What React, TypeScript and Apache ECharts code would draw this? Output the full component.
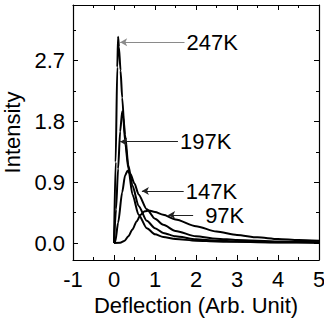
import React, { useEffect, useRef } from "react";
import * as echarts from "echarts";

const x247 = [0, 0.04, 0.08, 0.1, 0.12, 0.16, 0.2, 0.27, 0.35, 0.45, 0.6, 0.8, 1.0, 1.2, 1.5, 2.0, 2.5, 3.0, 4.0, 5.0];
const y247 = [0, 1.2, 2.6, 3.05, 2.9, 2.55, 2.15, 1.5, 1.1, 0.72, 0.42, 0.22, 0.13, 0.09, 0.06, 0.035, 0.025, 0.018, 0.01, 0.006];

const x197 = [0, 0.05, 0.1, 0.15, 0.2, 0.23, 0.27, 0.35, 0.45, 0.6, 0.8, 1.0, 1.2, 1.5, 2.0, 2.5, 3.0, 4.0, 5.0];
const y197 = [0, 0.5, 1.1, 1.65, 1.95, 1.85, 1.6, 1.15, 0.85, 0.55, 0.33, 0.22, 0.15, 0.1, 0.055, 0.035, 0.025, 0.014, 0.008];

const x147 = [0, 0.03, 0.1, 0.2, 0.27, 0.33, 0.4, 0.5, 0.6, 0.8, 1.0, 1.2, 1.5, 2.0, 2.5, 3.0, 4.0, 5.0];
const y147 = [0, 0.02, 0.3, 0.75, 1.0, 1.07, 1.02, 0.88, 0.72, 0.5, 0.36, 0.27, 0.18, 0.1, 0.065, 0.045, 0.022, 0.012];

const x97 = [0, 0.15, 0.25, 0.35, 0.45, 0.55, 0.65, 0.75, 0.85, 1.0, 1.2, 1.5, 2.0, 2.5, 3.0, 3.5, 4.0, 4.5, 5.0];
const y97 = [0, 0.005, 0.03, 0.1, 0.2, 0.32, 0.42, 0.47, 0.48, 0.46, 0.42, 0.35, 0.25, 0.17, 0.12, 0.085, 0.06, 0.045, 0.035];

const seriesNames = ["247K", "197K", "147K", "97K"];
// annotation arrows: [lineStartX, arrowTipX, y]
const arrows = [
  [1.72, 0.15, 2.97],
  [1.56, 0.15, 1.5],
  [1.7, 0.68, 0.77],
  [1.93, 1.32, 0.415],
];
const labelGaps = [2, 2, 2, 12];
const arrowColors = ["#8a8a8a", "#222", "#222", "#222"];

const xTicks = [-1, 0, 1, 2, 3, 4, 5];
const yTickLabels = [0, 0.9, 1.8, 2.7];
const yMinorTicks = [0.45, 1.35, 2.25, 3.15];

const Y_MIN = -0.25;
const Y_MAX = 3.52;
const FONT = "'Liberation Sans', Arial, sans-serif";

function zip(xs: number[], ys: number[]) {
  return xs.map((x, i) => [x, ys[i]]);
}

export default function App() {
  const ref = useRef<HTMLDivElement>(null);
  useEffect(() => {
    document.body.style.margin = "0";
    const chart = echarts.init(ref.current!, null, { renderer: "svg" });
    const datas = [zip(x247, y247), zip(x197, y197), zip(x147, y147), zip(x97, y97)];
    const yBase = (pos: "left" | "right", major: boolean, labels: boolean) => ({
      type: "value",
      position: pos,
      min: Y_MIN,
      max: Y_MAX,
      name: labels ? "Intensity" : "",
      nameLocation: "middle",
      nameGap: 41,
      nameTextStyle: { fontSize: 22, fontFamily: FONT, color: "#000" },
      axisLine: { show: major, onZero: false, lineStyle: { color: "#000", width: 1.2 } },
      axisTick: {
        show: true,
        inside: true,
        length: major ? 5 : 3,
        customValues: major ? yTickLabels : yMinorTicks,
        lineStyle: { color: "#000", width: 1 },
      },
      axisLabel: {
        show: labels,
        customValues: yTickLabels,
        formatter: (v: number) => v.toFixed(1),
        fontSize: 22,
        fontFamily: FONT,
        color: "#000",
        margin: 8,
      },
      splitLine: { show: false },
    });
    const xBase = (pos: "bottom" | "top", labels: boolean) => ({
      type: "value",
      position: pos,
      min: -1,
      max: 5,
      interval: 1,
      name: labels ? "Deflection (Arb. Unit)" : "",
      nameLocation: "middle",
      nameGap: 31,
      nameTextStyle: { fontSize: 22, fontFamily: FONT, color: "#000" },
      axisLine: { show: true, onZero: false, lineStyle: { color: "#000", width: 1.2 } },
      axisTick: { show: true, inside: true, length: 5, lineStyle: { color: "#000" } },
      minorTick: { show: true, splitNumber: 2, length: 3, lineStyle: { color: "#000" } },
      axisLabel: {
        show: labels,
        fontSize: 22,
        fontFamily: FONT,
        color: "#000",
        margin: 8,
        customValues: xTicks,
      },
      splitLine: { show: false },
      minorSplitLine: { show: false },
    });
    chart.setOption({
      animation: false,
      grid: { left: 73, right: 5, top: 5, bottom: 62, containLabel: false, outerBoundsMode: "none" },
      xAxis: [xBase("bottom", true), xBase("top", false)],
      yAxis: [
        yBase("left", true, true),
        yBase("left", false, false),
        yBase("right", true, false),
        yBase("right", false, false),
      ],
      series: datas.map((d, i) => ({
        type: "line",
        name: seriesNames[i],
        data: d,
        xAxisIndex: 0,
        yAxisIndex: 0,
        showSymbol: false,
        smooth: 0.25,
        smoothMonotone: "x",
        lineStyle: { color: "#000", width: 2 },
        silent: true,
        markLine: {
          silent: true,
          symbol: ["none", "arrow"],
          symbolSize: [6, 7],
          lineStyle: { color: arrowColors[i], width: 1, type: "solid" },
          label: {
            show: true,
            position: "start",
            distance: labelGaps[i],
            formatter: seriesNames[i],
            fontSize: 22,
            fontFamily: FONT,
            color: "#000",
          },
          emphasis: { disabled: true },
          data: [
            [
              { coord: [arrows[i][0], arrows[i][2]] },
              { coord: [arrows[i][1], arrows[i][2]] },
            ],
          ],
        },
      })),
    });
    return () => chart.dispose();
  }, []);
  return <div ref={ref} style={{ width: 324, height: 322 }} />;
}
